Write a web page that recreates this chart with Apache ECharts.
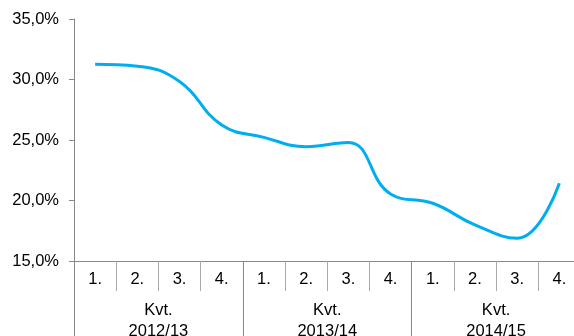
<!DOCTYPE html>
<html>
<head>
<meta charset="utf-8">
<script src="https://cdn.jsdelivr.net/npm/echarts@6/dist/echarts.min.js"></script>
<style>html,body{margin:0;padding:0;background:#fff;}#c{width:574px;height:336px;}</style>
</head>
<body>
<div id="c"></div>
<script>
var quarters = ['1.', '2.', '3.', '4.', '1.', '2.', '3.', '4.', '1.', '2.', '3.', '4.'];
var years = ['Kvt.\n2012/13', 'Kvt.\n2013/14', 'Kvt.\n2014/15'];
var values = [31.26, 31.1, 29.83, 26.24, 25.22, 24.45, 24.8, 20.54, 19.77, 17.98, 16.88, 21.42];
var yTicks = [15, 20, 25, 30, 35];

var font = 'Liberation Sans, Arial, sans-serif';
var chart = echarts.init(document.getElementById('c'), null, {renderer: 'canvas'});
chart.setOption({
  animation: false,
  backgroundColor: '#fff',
  grid: {left: 74, top: 19, bottom: 75, width: 506.5, containLabel: false, outerBoundsMode: 'none'},
  xAxis: [{
    type: 'category',
    data: quarters,
    position: 'bottom',
    boundaryGap: true,
    axisLine: {show: true, lineStyle: {color: '#888', width: 1}},
    axisTick: {show: true, interval: 0, length: 30, lineStyle: {color: '#aaa', width: 1}},
    axisLabel: {interval: 0, margin: 10, fontSize: 16.5, color: '#000', fontFamily: font},
    splitLine: {show: false}
  }, {
    type: 'category',
    data: years,
    position: 'bottom',
    boundaryGap: true,
    axisLine: {show: false},
    axisTick: {show: true, interval: 0, length: 80, lineStyle: {color: '#888', width: 1}},
    axisLabel: {interval: 0, margin: 39, fontSize: 16.5, lineHeight: 21, color: '#000', fontFamily: font},
    splitLine: {show: false}
  }],
  yAxis: {
    type: 'value',
    min: yTicks[0],
    max: yTicks[yTicks.length - 1],
    interval: 5,
    axisLine: {show: true, lineStyle: {color: '#888', width: 1}},
    axisTick: {show: true, length: 5, lineStyle: {color: '#888'}},
    axisLabel: {margin: 15, fontSize: 16.5, color: '#000', fontFamily: font,
      formatter: function (v) { return v.toFixed(1).replace('.', ',') + '%'; }},
    splitLine: {show: false}
  },
  series: [{
    type: 'line',
    xAxisIndex: 0,
    data: values,
    smooth: 0.45,
    symbol: 'none',
    lineStyle: {color: '#00AEEF', width: 3},
    itemStyle: {color: '#00AEEF'}
  }]
});
</script>
</body>
</html>
